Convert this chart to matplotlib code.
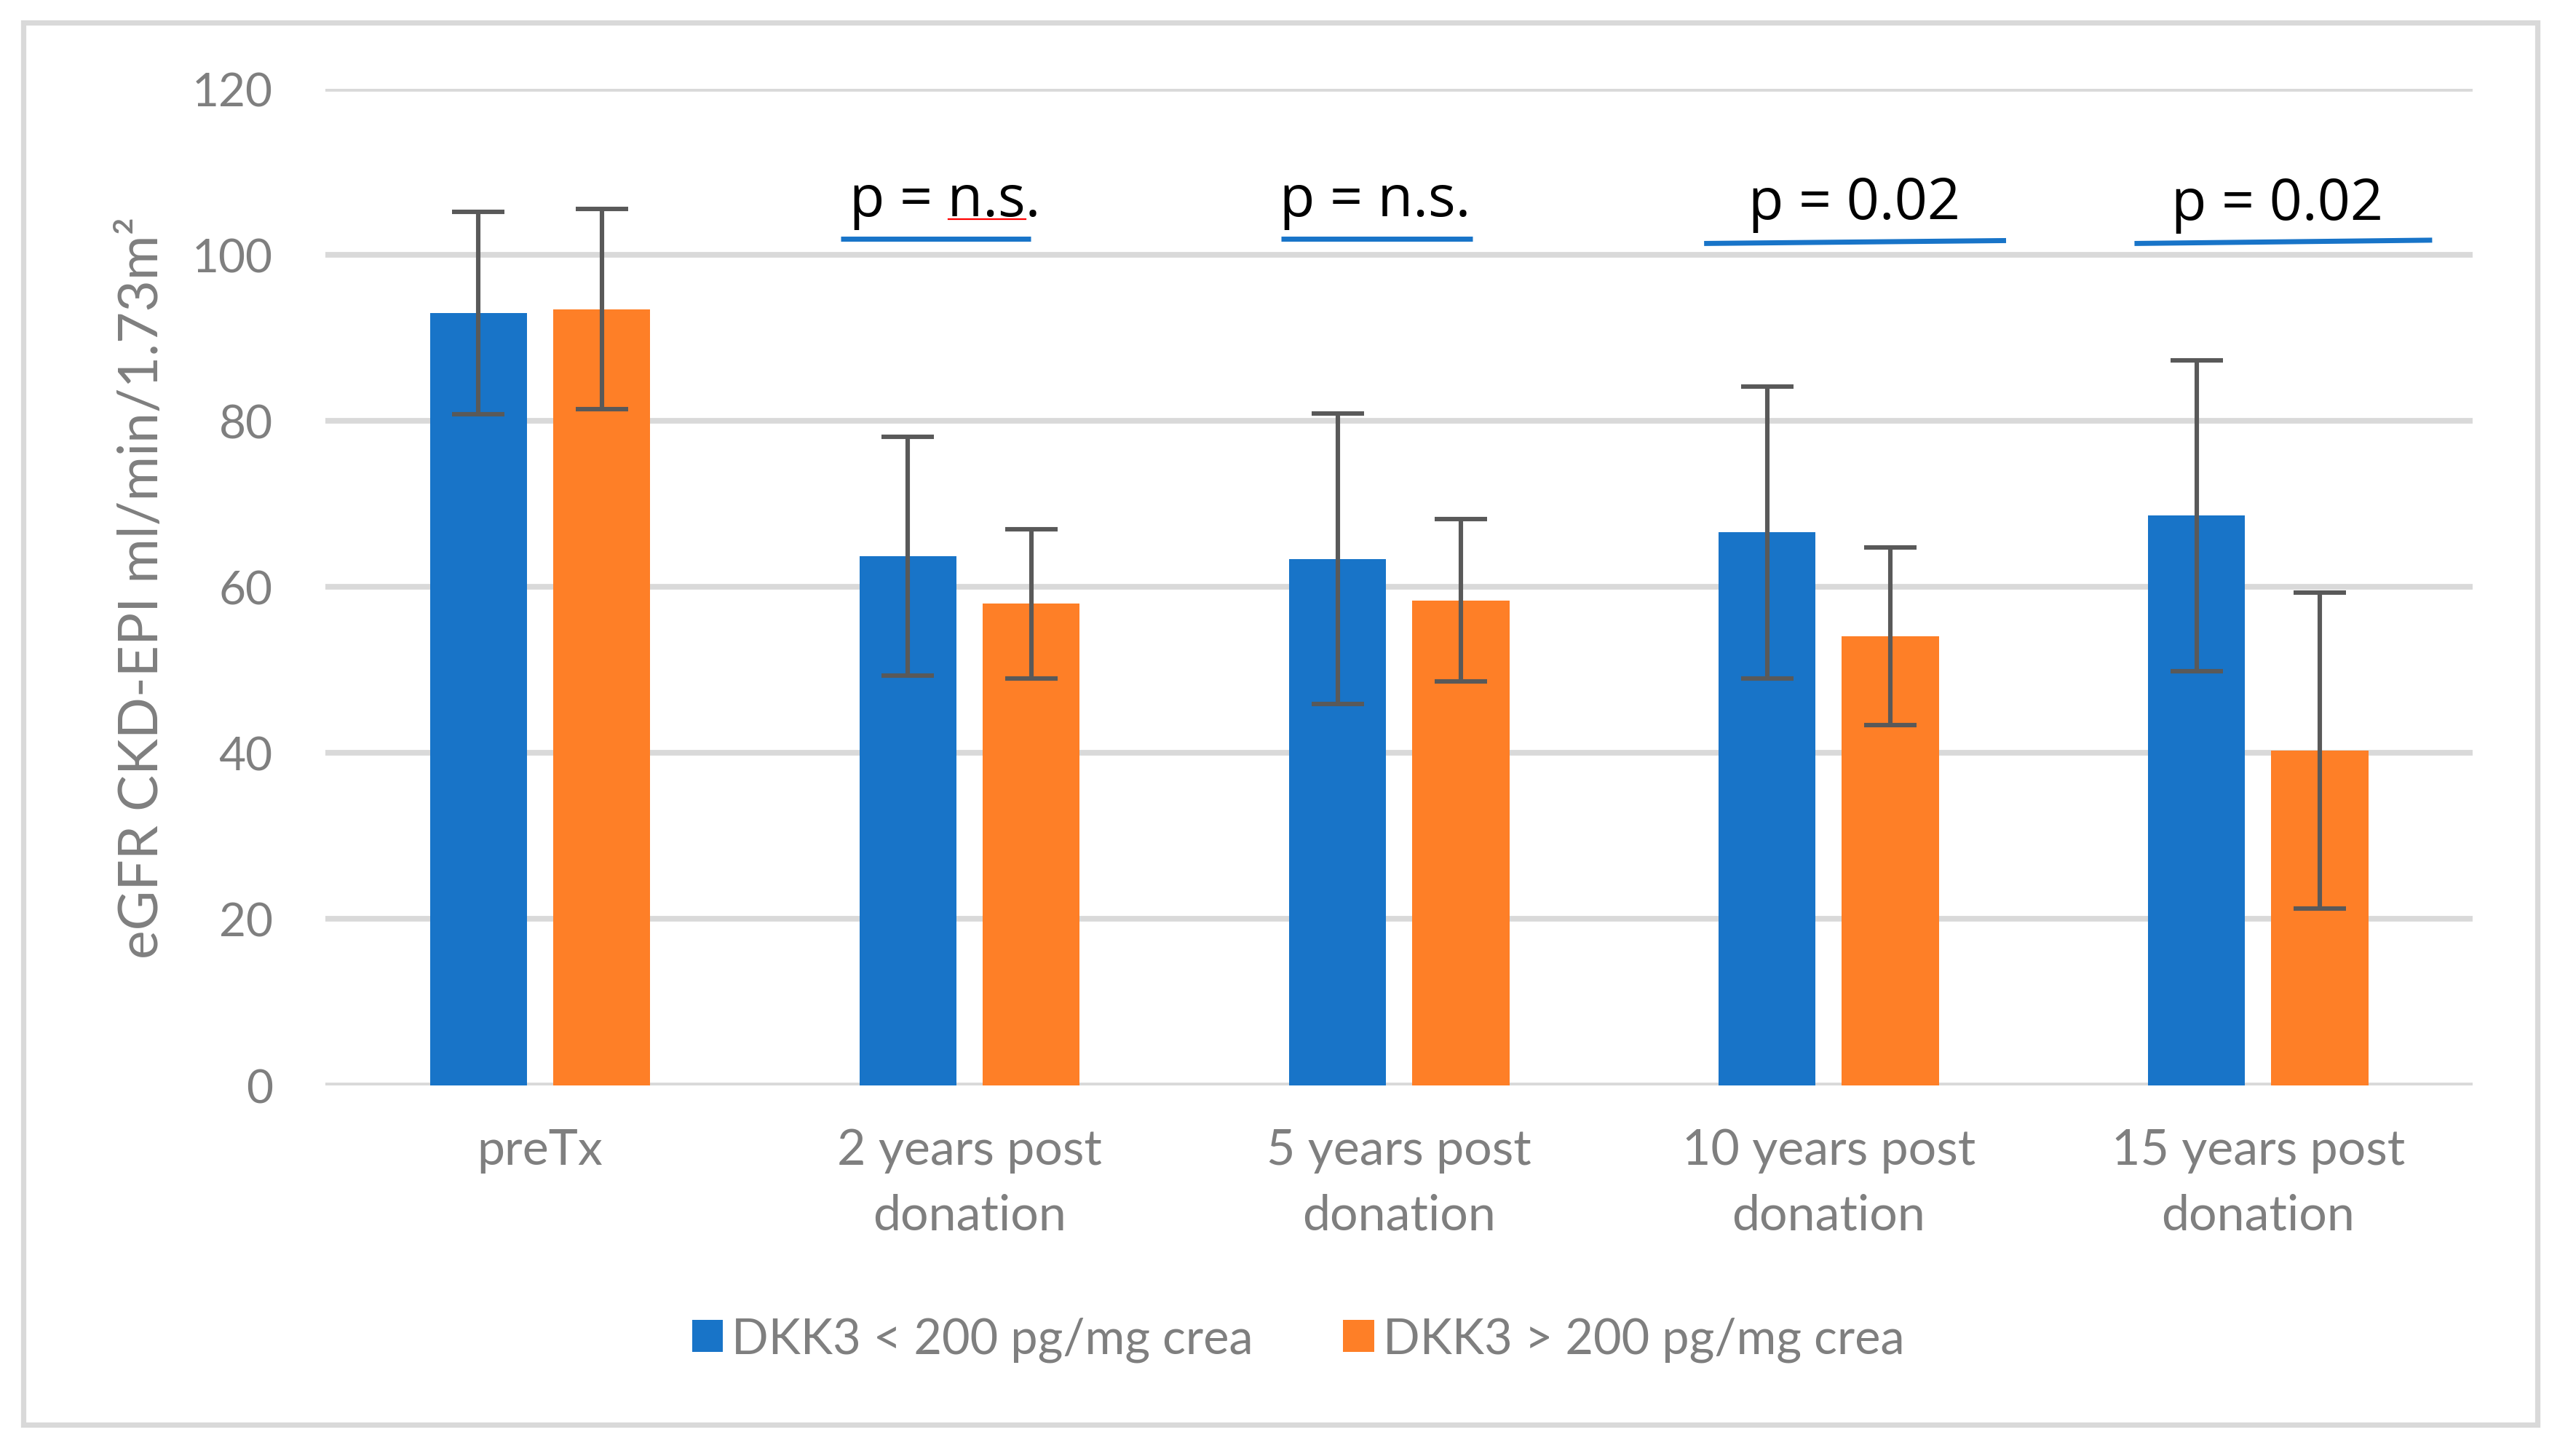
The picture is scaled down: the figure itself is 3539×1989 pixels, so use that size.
import numpy as np
import matplotlib.pyplot as plt
from matplotlib.patches import Rectangle

# data
categories = ["preTx", "2 years post\ndonation", "5 years post\ndonation",
              "10 years post\ndonation", "15 years post\ndonation"]
low_dkk3 = [93.0, 63.7, 63.4, 66.6, 68.6]
low_dkk3_err = [12.2, 14.4, 17.5, 17.6, 18.7]
high_dkk3 = [93.5, 58.0, 58.4, 54.1, 40.3]
high_dkk3_err = [12.1, 9.0, 9.8, 10.7, 19.0]
series_labels = ["DKK3 < 200 pg/mg crea", "DKK3 > 200 pg/mg crea"]

# significance annotations (category index, text)
p_cats = [1, 2, 3, 4]
p_texts = ["p = n.s.", "p = n.s.", "p = 0.02", "p = 0.02"]

blue = "#1874c8"
orange = "#fe7f27"
grey_txt = "#7f7f7f"

plt.rcParams['font.family'] = ['Lato', 'DejaVu Sans']

fig = plt.figure(figsize=(17.695, 9.95), dpi=200)
ax = fig.add_axes([0.1263, 0.2505, 0.8337, 0.6875])

x = np.arange(len(categories))
w = 0.226
off = 0.1435
err_kw = dict(ecolor="#595959", elinewidth=2.2, capsize=13, capthick=2.2)
ax.bar(x - off, low_dkk3, w, yerr=low_dkk3_err, color=blue,
       label=series_labels[0], error_kw=err_kw, zorder=3)
ax.bar(x + off, high_dkk3, w, yerr=high_dkk3_err, color=orange,
       label=series_labels[1], error_kw=err_kw, zorder=3)

ax.set_xlim(-0.5, 4.5)
ax.set_ylim(0, 120)
ax.set_yticks(np.arange(0, 121, 20))
ax.set_xticks(x)
ax.set_xticklabels(categories, linespacing=1.55)
ax.tick_params(axis='both', length=0, labelcolor=grey_txt)
ax.tick_params(axis='y', pad=26, labelsize=23)
ax.tick_params(axis='x', pad=21, labelsize=24.5)
ax.grid(axis='y', color="#d9d9d9", linewidth=2.8, zorder=0)
ax.set_axisbelow(True)
for s in ax.spines.values():
    s.set_visible(False)

ax.set_ylabel("eGFR CKD-EPI ml/min/1.73m²", fontsize=27, color=grey_txt)
ax.yaxis.set_label_coords(-0.0735, 0.5)

# p-value labels with blue lines underneath
line_spans = [(-0.30, 0.143), (-0.275, 0.171), (-0.29, 0.413), (-0.288, 0.405)]
line_y = [(101.95, 101.95), (101.95, 101.95), (101.4, 101.75), (101.4, 101.8)]
text_dx = [-0.057, -0.056, 0.059, 0.044]
text_y = [104.8, 104.8, 104.4, 104.3]
for c, t, span, ly, dx, ty in zip(p_cats, p_texts, line_spans, line_y, text_dx, text_y):
    ax.text(c + dx, ty, t, ha='center', va='baseline', fontsize=28.5,
            family=['Open Sans', 'DejaVu Sans'], color='black')
    ax.plot([c + span[0], c + span[1]], ly, color=blue, linewidth=2.5,
            solid_capstyle='butt', clip_on=False)
# spell-check squiggle under the first "n.s."
ax.plot([0.95, 1.131], [104.3, 104.3], color='red', linewidth=0.8)

fig.legend(loc='center', bbox_to_anchor=(0.504, 0.075), ncol=2, frameon=False,
           fontsize=24, labelcolor=grey_txt, handlelength=0.64, handleheight=0.64,
           handletextpad=0.18, columnspacing=1.85)

# light grey outer border
fig.patches.append(Rectangle((0.009, 0.016), 0.976, 0.968, transform=fig.transFigure,
                             fill=False, edgecolor="#d9d9d9", linewidth=2.6))

fig.savefig("out.png", dpi=200)
